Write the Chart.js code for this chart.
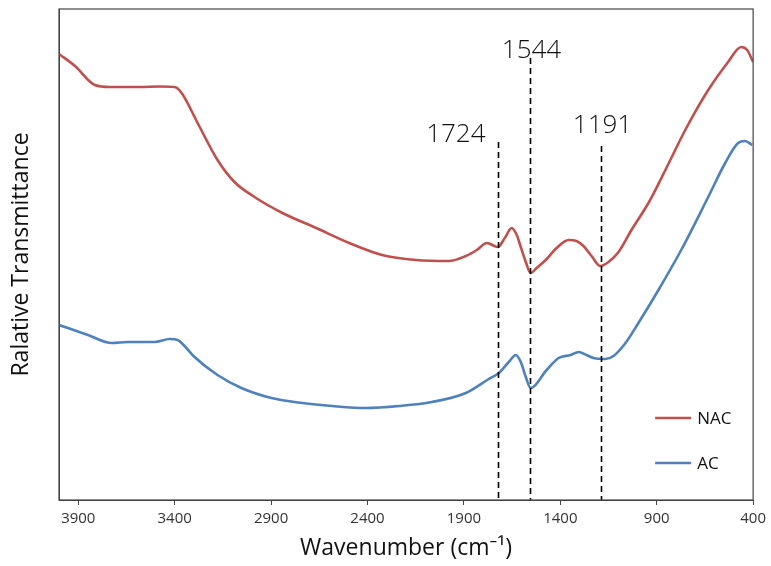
<!DOCTYPE html>
<html>
<head>
<meta charset="utf-8">
<script src="https://cdn.jsdelivr.net/npm/chart.js@4.4.0/dist/chart.umd.min.js"></script>
<style>
  body { margin: 0; background: #fff; }
  #wrap { width: 771px; height: 566px; }
</style>
</head>
<body>
<div id="wrap"><canvas id="ftir" width="771" height="566"></canvas></div>
<script>
// wavenumbers (cm-1) and relative transmittance (arbitrary units)
const nacWave = [4000, 3917, 3814, 3736, 3581, 3478, 3400, 3364, 3281, 3178, 3090, 2986, 2841, 2666, 2495, 2324, 2148, 1978, 1890, 1833, 1781, 1724, 1688, 1652, 1626, 1605, 1579, 1554, 1523, 1476, 1419, 1357, 1316, 1280, 1238, 1192, 1150, 1098, 1031, 943, 855, 752, 633, 530, 462, 431, 400];
const nacVal  = [446, 434, 415, 413, 413, 413.5, 413, 407, 377, 340, 318, 303, 287, 272, 257, 245, 240, 239, 244, 250, 257, 253, 262, 272, 265, 253, 238, 227, 232, 240, 252, 260, 259, 254, 244, 234, 238, 248, 270, 297, 330, 370, 410, 438, 453, 450, 438];

const acWave = [4000, 3850, 3726, 3643, 3503, 3426, 3385, 3354, 3297, 3178, 3054, 2898, 2738, 2583, 2407, 2236, 2066, 1890, 1771, 1719, 1667, 1631, 1605, 1579, 1554, 1471, 1409, 1347, 1305, 1264, 1228, 1166, 1124, 1062, 995, 891, 773, 633, 545, 478, 442, 405];
const acVal  = [175, 165, 157, 158, 158, 161, 160, 155, 143, 125, 112, 102, 97, 94, 92, 94, 98, 107, 121, 127, 138, 145, 138, 123, 112, 130, 142, 145, 148, 145, 142, 141, 144, 157, 177, 210, 250, 303, 337, 357, 359, 355];

const xTicks = [3900, 3400, 2900, 2400, 1900, 1400, 900, 400];

// marked peaks: label, wavenumber of the dashed line, height where the line starts
const peakLabels = ['1724', '1544', '1191'];
const peakWave   = [1724, 1558, 1191];
const peakTop    = [358, 442, 354];

const toXY = (xs, ys) => xs.map((x, i) => ({ x: x, y: ys[i] }));
const FONT = '"Open Sans", "Noto Sans", sans-serif';

const frameAndMarks = {
  id: 'frameAndMarks',
  afterDatasetsDraw(chart) {
    const { ctx, chartArea: a, scales: { x, y } } = chart;
    ctx.save();

    // dashed peak lines + numbers
    ctx.strokeStyle = '#000';
    ctx.lineWidth = 1.6;
    ctx.setLineDash([6, 4]);
    ctx.font = '300 26px ' + FONT;
    ctx.fillStyle = '#111';
    ctx.textBaseline = 'alphabetic';
    peakWave.forEach((w, i) => {
      const px = Math.round(x.getPixelForValue(w)) + 0.5;
      const top = y.getPixelForValue(peakTop[i]);
      ctx.beginPath();
      ctx.moveTo(px, top);
      ctx.lineTo(px, a.bottom);
      ctx.stroke();
      if (i === 0) {
        ctx.textAlign = 'right';
        ctx.fillText(peakLabels[i], px - 13, top);
      } else {
        ctx.textAlign = 'center';
        ctx.fillText(peakLabels[i], px + 1, top - (i === 1 ? 0 : 13));
      }
    });
    ctx.setLineDash([]);

    // legend inside the plot
    ctx.font = '17px ' + FONT;
    ctx.textAlign = 'left';
    ctx.textBaseline = 'middle';
    chart.data.datasets.forEach((ds, i) => {
      const ly = a.bottom - 82 + i * 45;
      ctx.strokeStyle = ds.borderColor;
      ctx.lineWidth = 2.5;
      ctx.beginPath();
      ctx.moveTo(a.right - 98, ly);
      ctx.lineTo(a.right - 62, ly);
      ctx.stroke();
      ctx.fillStyle = '#111';
      ctx.fillText(ds.label, a.right - 56, ly + 1);
    });

    // plot frame
    ctx.strokeStyle = '#444';
    ctx.lineWidth = 1.2;
    ctx.strokeRect(a.left, a.top, a.right - a.left, a.bottom - a.top);
    ctx.restore();
  }
};

new Chart(document.getElementById('ftir'), {
  type: 'line',
  data: {
    datasets: [
      { label: 'NAC', data: toXY(nacWave, nacVal), borderColor: '#C0504D', borderWidth: 2.6, pointRadius: 0, cubicInterpolationMode: 'monotone' },
      { label: 'AC', data: toXY(acWave, acVal), borderColor: '#4F81BD', borderWidth: 2.6, pointRadius: 0, cubicInterpolationMode: 'monotone' }
    ]
  },
  options: {
    responsive: false,
    animation: false,
    layout: { padding: { top: 9, right: 16, left: 0, bottom: 0 } },
    plugins: { legend: { display: false }, tooltip: { enabled: false } },
    scales: {
      x: {
        type: 'linear',
        reverse: true,
        min: 400,
        max: 4000,
        afterBuildTicks: (s) => { s.ticks = xTicks.map(v => ({ value: v })); },
        afterFit: (s) => { s.height = 66; },
        grid: { drawOnChartArea: false, drawTicks: true, tickLength: 5, color: '#444' },
        border: { color: '#444' },
        ticks: { color: '#333', font: { size: 15, family: FONT }, padding: 5, maxRotation: 0, callback: (v) => String(v) },
        title: { display: true, text: 'Wavenumber (cm⁻¹)', color: '#111', font: { size: 23, family: FONT }, padding: { top: 2 } }
      },
      y: {
        min: 0,
        max: 491,
        afterFit: (s) => { s.width = 59; },
        grid: { display: false },
        border: { color: '#444' },
        ticks: { display: false },
        title: { display: true, text: 'Ralative Transmittance', color: '#111', font: { size: 23, family: FONT }, padding: { top: 8, bottom: 0 } }
      }
    }
  },
  plugins: [frameAndMarks]
});
</script>
</body>
</html>
